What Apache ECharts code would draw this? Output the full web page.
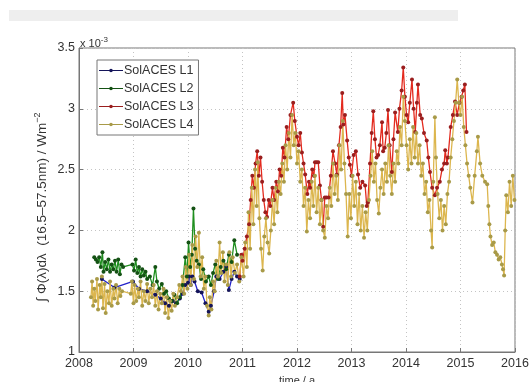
<!DOCTYPE html>
<html>
<head>
<meta charset="utf-8">
<script src="https://cdn.jsdelivr.net/npm/echarts@6/dist/echarts.min.js"></script>
<style>
  html, body { margin: 0; padding: 0; background: #fff; }
  #chart { width: 531px; height: 382px; }
</style>
</head>
<body>
<div id="chart"></div>
<script>
  // values in units of 1e-3 W/m^2, time in decimal years
  var xTicks = [2008, 2009, 2010, 2011, 2012, 2013, 2014, 2015, 2016]
  var yTicks = [1, 1.5, 2, 2.5, 3, 3.5]
  var seriesNames = ['SolACES L1', 'SolACES L2', 'SolACES L3', 'SolACES L4']

  var l1Time = [2008.42, 2008.65, 2008.99, 2009.10, 2009.25, 2009.40, 2009.50, 2009.58, 2009.65, 2009.72,
    2009.78, 2009.85, 2009.90, 2009.95, 2010.00, 2010.02, 2010.05, 2010.08, 2010.12, 2010.18,
    2010.25, 2010.32, 2010.38, 2010.42, 2010.48, 2010.52, 2010.58, 2010.65, 2010.70, 2010.75,
    2010.80, 2010.85, 2010.90, 2010.95]
  var l1Value = [1.60, 1.53, 1.58, 1.52, 1.50, 1.47, 1.44, 1.40, 1.38, 1.42,
    1.40, 1.44, 1.48, 1.55, 1.57, 1.62, 1.55, 1.62, 1.58, 1.50,
    1.49, 1.40, 1.33, 1.38, 1.50, 1.62, 1.60, 1.66, 1.70, 1.51,
    1.60, 1.66, 1.62, 1.60]

  var l2Time = [2008.28, 2008.31, 2008.34, 2008.37, 2008.40, 2008.43, 2008.45, 2008.48, 2008.51, 2008.54,
    2008.57, 2008.60, 2008.63, 2008.66, 2008.69, 2008.72, 2008.75, 2008.78, 2008.81, 2008.98,
    2009.01, 2009.04, 2009.07, 2009.10, 2009.13, 2009.16, 2009.19, 2009.22, 2009.25, 2009.30,
    2009.35, 2009.40, 2009.43, 2009.47, 2009.52, 2009.56, 2009.60, 2009.65, 2009.70, 2009.75,
    2009.80, 2009.85, 2009.90, 2009.95, 2009.98, 2010.01, 2010.04, 2010.07, 2010.10, 2010.13,
    2010.16, 2010.20, 2010.24, 2010.28, 2010.33, 2010.38, 2010.42, 2010.46, 2010.50, 2010.55,
    2010.60, 2010.65, 2010.70, 2010.75, 2010.80, 2010.85, 2010.90]
  var l2Value = [1.78, 1.76, 1.74, 1.78, 1.70, 1.82, 1.66, 1.74, 1.68, 1.76,
    1.66, 1.72, 1.68, 1.75, 1.66, 1.76, 1.64, 1.72, 1.70, 1.72,
    1.67, 1.76, 1.65, 1.70, 1.62, 1.68, 1.63, 1.66, 1.60, 1.62,
    1.55, 1.70, 1.58, 1.52, 1.56, 1.48, 1.50, 1.44, 1.42, 1.47,
    1.40, 1.45, 1.55, 1.78, 1.62, 1.90, 1.70, 1.80, 2.18, 1.85,
    1.75, 1.72, 1.60, 1.68, 1.58, 1.62, 1.55, 1.65, 1.72, 1.60,
    1.70, 1.75, 1.68, 1.80, 1.74, 1.92, 1.80]

  var l3Time = [2010.95, 2010.98, 2011.00, 2011.04, 2011.08, 2011.12, 2011.15, 2011.18, 2011.21, 2011.24,
    2011.27, 2011.30, 2011.33, 2011.36, 2011.39, 2011.42, 2011.45, 2011.48, 2011.51, 2011.55,
    2011.58, 2011.62, 2011.65, 2011.68, 2011.71, 2011.74, 2011.77, 2011.81, 2011.84, 2011.88,
    2011.93, 2011.96, 2012.00, 2012.03, 2012.06, 2012.09, 2012.12, 2012.15, 2012.19, 2012.22,
    2012.24, 2012.28, 2012.31, 2012.33, 2012.36, 2012.39, 2012.42, 2012.45, 2012.48, 2012.51,
    2012.54, 2012.58, 2012.62, 2012.66, 2012.70, 2012.73, 2012.77, 2012.80, 2012.83, 2012.85,
    2012.88, 2012.92, 2012.95, 2012.97, 2013.00, 2013.04, 2013.08, 2013.12, 2013.16, 2013.20,
    2013.25, 2013.28, 2013.30, 2013.34, 2013.37, 2013.40, 2013.43, 2013.46, 2013.49, 2013.52,
    2013.56, 2013.58, 2013.61, 2013.64, 2013.67, 2013.70, 2013.74, 2013.77, 2013.80, 2013.85,
    2013.88, 2013.92, 2013.95, 2013.98, 2014.01, 2014.04, 2014.07, 2014.11, 2014.14, 2014.17,
    2014.20, 2014.22, 2014.26, 2014.29, 2014.33, 2014.38, 2014.41, 2014.44, 2014.48, 2014.53,
    2014.57, 2014.62, 2014.66, 2014.70, 2014.72, 2014.75, 2014.77, 2014.82, 2014.86, 2014.90,
    2014.94, 2014.98, 2015.02, 2015.05, 2015.08, 2015.11]
  var l3Value = [1.62, 1.80, 1.75, 1.85, 1.95, 2.05, 2.25, 2.45, 2.35, 2.55,
    2.65, 2.45, 2.60, 2.40, 2.25, 2.15, 2.11, 2.25, 2.20, 2.35,
    2.25, 2.40, 2.32, 2.50, 2.45, 2.68, 2.60, 2.85, 2.75, 2.95,
    3.05, 2.90, 2.77, 2.70, 2.80, 2.64, 2.55, 2.46, 2.30, 2.40,
    2.35, 2.50, 2.45, 2.56, 2.56, 2.56, 2.37, 2.25, 2.03, 2.27,
    2.27, 2.27, 2.45, 2.65, 2.55, 2.46, 2.70, 2.85, 3.13, 2.87,
    2.95, 2.74, 2.60, 2.54, 2.45, 2.62, 2.65, 2.46, 2.35, 2.40,
    2.37, 2.20, 2.23, 2.55, 2.80, 2.98, 2.75, 2.60, 2.62, 2.70,
    2.89, 2.65, 2.68, 2.80, 2.99, 2.70, 2.48, 2.75, 2.97, 2.81,
    3.00, 3.15, 3.34, 3.10, 2.95, 2.89, 3.05, 3.24, 3.00, 2.81,
    3.05, 3.20, 2.95, 2.92, 2.80, 2.74, 2.60, 2.48, 2.35, 2.29,
    2.35, 2.40, 2.50, 2.55, 2.66, 2.55, 2.60, 2.85, 2.95, 3.06,
    2.95, 3.05, 3.10, 3.15, 3.20, 2.81]

  var l4Time = [2008.22, 2008.24, 2008.26, 2008.28, 2008.30, 2008.33, 2008.35, 2008.38, 2008.40, 2008.42,
    2008.44, 2008.47, 2008.49, 2008.52, 2008.55, 2008.57, 2008.60, 2008.63, 2008.65, 2008.68,
    2008.71, 2008.74, 2008.76, 2008.79, 2008.95, 2008.97, 2009.00, 2009.02, 2009.05, 2009.08,
    2009.10, 2009.13, 2009.16, 2009.19, 2009.22, 2009.25, 2009.28, 2009.31, 2009.34, 2009.37,
    2009.40, 2009.43, 2009.46, 2009.49, 2009.52, 2009.55, 2009.58, 2009.61, 2009.64, 2009.67,
    2009.70, 2009.73, 2009.76, 2009.80, 2009.84, 2009.87, 2009.90, 2009.93, 2009.96, 2009.99,
    2010.02, 2010.05, 2010.08, 2010.11, 2010.14, 2010.17, 2010.20, 2010.23, 2010.26, 2010.29,
    2010.32, 2010.35, 2010.38, 2010.40, 2010.43, 2010.46, 2010.49, 2010.52, 2010.55, 2010.58,
    2010.61, 2010.64, 2010.67, 2010.70, 2010.73, 2010.76, 2010.79, 2010.82, 2010.86, 2010.90,
    2010.94, 2010.98, 2011.02, 2011.05, 2011.08, 2011.11, 2011.14, 2011.17, 2011.20, 2011.23,
    2011.26, 2011.28, 2011.31, 2011.34, 2011.37, 2011.40, 2011.43, 2011.46, 2011.49, 2011.52,
    2011.55, 2011.58, 2011.61, 2011.64, 2011.67, 2011.70, 2011.73, 2011.76, 2011.79, 2011.82,
    2011.85, 2011.88, 2011.91, 2011.94, 2011.97, 2012.00, 2012.03, 2012.06, 2012.09, 2012.12,
    2012.15, 2012.18, 2012.21, 2012.24, 2012.27, 2012.30, 2012.33, 2012.36, 2012.39, 2012.42,
    2012.45, 2012.48, 2012.51, 2012.54, 2012.57, 2012.60, 2012.63, 2012.66, 2012.69, 2012.72,
    2012.75, 2012.78, 2012.81, 2012.84, 2012.87, 2012.90, 2012.93, 2012.96, 2012.99, 2013.02,
    2013.05, 2013.08, 2013.11, 2013.14, 2013.17, 2013.20, 2013.23, 2013.26, 2013.29, 2013.32,
    2013.35, 2013.38, 2013.41, 2013.44, 2013.47, 2013.50, 2013.53, 2013.56, 2013.59, 2013.62,
    2013.65, 2013.68, 2013.71, 2013.74, 2013.77, 2013.80, 2013.83, 2013.86, 2013.89, 2013.92,
    2013.95, 2013.98, 2014.01, 2014.04, 2014.07, 2014.10, 2014.13, 2014.16, 2014.19, 2014.22,
    2014.25, 2014.28, 2014.31, 2014.34, 2014.37, 2014.40, 2014.43, 2014.46, 2014.48, 2014.50,
    2014.53, 2014.55, 2014.58, 2014.61, 2014.64, 2014.67, 2014.70, 2014.73, 2014.76, 2014.79,
    2014.82, 2014.85, 2014.88, 2014.91, 2014.94, 2014.97, 2015.00, 2015.03, 2015.06, 2015.09,
    2015.12, 2015.15, 2015.18, 2015.22, 2015.26, 2015.30, 2015.32, 2015.36, 2015.40, 2015.45,
    2015.49, 2015.51, 2015.53, 2015.55, 2015.58, 2015.61, 2015.64, 2015.67, 2015.70, 2015.73,
    2015.76, 2015.78, 2015.80, 2015.82, 2015.84, 2015.87, 2015.90, 2015.93, 2015.96, 2015.99]
  var l4Value = [1.45, 1.58, 1.38, 1.52, 1.42, 1.60, 1.35, 1.55, 1.45, 1.62,
    1.36, 1.56, 1.32, 1.50, 1.40, 1.58, 1.38, 1.52, 1.44, 1.55,
    1.40, 1.52, 1.46, 1.50, 1.48, 1.58, 1.40, 1.55, 1.42, 1.52,
    1.45, 1.58, 1.38, 1.50, 1.42, 1.56, 1.40, 1.52, 1.45, 1.55,
    1.38, 1.50, 1.35, 1.48, 1.40, 1.52, 1.32, 1.45, 1.28, 1.42,
    1.34, 1.48, 1.38, 1.45, 1.55, 1.50, 1.62, 1.48, 1.70, 1.52,
    1.80, 1.55, 1.88, 1.60, 1.95, 1.70, 1.98, 1.62, 1.78, 1.52,
    1.62, 1.38, 1.30, 1.45, 1.35, 1.58, 1.50, 1.75, 1.62, 1.90,
    1.65, 1.82, 1.58, 1.72, 1.55, 1.82, 1.62, 1.78, 1.65, 1.72,
    1.58, 1.78, 1.62, 1.90, 1.70, 2.15, 1.85, 2.35, 2.05, 2.50,
    2.20, 2.56, 2.10, 1.85, 1.67, 1.95, 2.10, 1.90, 1.81, 2.00,
    2.25, 2.05, 2.35, 2.15, 2.40, 2.30, 2.55, 2.40, 2.70, 2.50,
    2.80, 2.60, 2.95, 2.70, 2.80, 2.55, 2.65, 2.40, 2.50, 2.20,
    2.35, 1.99, 2.25, 2.10, 2.40, 2.20, 2.45, 2.15, 2.35, 2.05,
    2.25, 2.00, 1.94, 2.20, 2.10, 2.35, 2.20, 2.55, 2.30, 2.45,
    2.25, 2.70, 2.50, 2.90, 2.55, 2.30, 1.95, 2.30, 2.10, 2.45,
    2.20, 2.40, 2.05, 2.30, 2.00, 2.20, 1.94, 2.15, 2.00, 2.25,
    2.45, 2.65, 2.40, 2.55, 2.25, 2.14, 2.35, 2.50, 2.30, 2.55,
    2.40, 2.70, 2.45, 2.30, 2.55, 2.40, 2.65, 2.55, 2.85, 2.70,
    3.10, 2.90, 2.70, 2.50, 2.75, 2.55, 2.85, 2.60, 2.80, 2.55,
    2.70, 2.45, 2.55, 2.30, 2.40, 2.15, 2.25, 2.00, 1.86, 2.40,
    2.93, 2.60, 2.30, 2.10, 2.25, 2.00, 2.20, 2.05, 2.30, 2.40,
    2.60, 2.75, 2.90, 3.05, 3.24, 3.05, 2.95, 3.10, 2.85, 2.70,
    2.55, 2.45, 2.35, 2.23, 2.45, 2.65, 2.77, 2.55, 2.45, 2.40,
    2.38, 2.20, 2.05, 1.95, 1.88, 1.90, 1.82, 1.80, 1.76, 1.78,
    1.72, 1.68, 1.63, 2.00, 2.29, 2.15, 2.40, 2.20, 2.45, 2.25]

  var lineColors = ['#2323c8', '#1f8f1f', '#e32a1e', '#dcb64e']
  var dotColors = ['#14145a', '#145214', '#9a1e1e', '#a89a48']

  function pairs (t, v) {
    let out = []
    for (let i = 0; i < t.length; i++) {
      out.push([t[i], v[i]])
    }
    return out
  }

  var allData = [pairs(l1Time, l1Value), pairs(l2Time, l2Value), pairs(l3Time, l3Value), pairs(l4Time, l4Value)]

  // legend sample: thin line with a small dot in the middle
  var legendIcon = 'path://M0,4.4L24,4.4L24,5.6L0,5.6Z M12,3.2A1.8,1.8,0,1,1,11.99,3.2Z'

  var series = seriesNames.map(function (name, i) {
    return {
      name: name,
      type: 'line',
      data: allData[i],
      symbol: 'circle',
      symbolSize: 4,
      showAllSymbol: true,
      lineStyle: { color: lineColors[i], width: 1.3 },
      itemStyle: { color: dotColors[i], borderWidth: 0 },
      emphasis: { disabled: true },
    }
  })

  var txt = '#333'
  var font = 'Liberation Sans, Arial, DejaVu Sans, sans-serif'

  var myChart = echarts.init(document.getElementById('chart'))
  var option = {
    animation: false,
    backgroundColor: '#fff',
    grid: {
      left: 79,
      right: 16,
      top: 48,
      bottom: 30,
      outerBoundsMode: 'none',
      show: true,
      borderColor: '#777',
      borderWidth: 1,
      backgroundColor: 'transparent',
    },
    legend: {
      orient: 'vertical',
      left: 97,
      top: 60,
      data: seriesNames.map(function (n) { return { name: n, icon: legendIcon } }),
      padding: [4, 5, 4, 2],
      itemGap: 5,
      itemWidth: 24,
      itemHeight: 10,
      backgroundColor: '#fff',
      borderColor: '#777',
      borderWidth: 1,
      borderRadius: 0,
      textStyle: { fontSize: 12.5, color: txt, fontFamily: font, padding: [0, 0, 0, -4] },
    },
    xAxis: {
      type: 'value',
      min: xTicks[0],
      max: xTicks[xTicks.length - 1],
      interval: 1,
      axisLine: { show: true, lineStyle: { color: '#777' } },
      axisTick: { show: true, inside: true, length: 4, lineStyle: { color: '#777' } },
      axisLabel: { color: txt, fontSize: 12.5, fontFamily: font, margin: 5, formatter: function (v) { return String(v) } },
      splitLine: { show: true, lineStyle: { color: '#c4c4c4', type: [1, 3] } },
      name: 'time / a',
      nameLocation: 'middle',
      nameGap: 23,
      nameTextStyle: { color: txt, fontSize: 11, fontFamily: font },
    },
    yAxis: {
      type: 'value',
      min: yTicks[0],
      max: yTicks[yTicks.length - 1],
      interval: 0.5,
      axisLine: { show: true, lineStyle: { color: '#777' } },
      axisTick: { show: true, inside: true, length: 4, lineStyle: { color: '#777' } },
      axisLabel: { color: txt, fontSize: 12.5, fontFamily: font, margin: 4, formatter: function (v) { return String(v) } },
      splitLine: { show: true, lineStyle: { color: '#c4c4c4', type: [1, 3] } },
    },
    graphic: [
      {
        type: 'rect',
        shape: { x: 9, y: 10, width: 449, height: 11 },
        style: { fill: '#eeeeee' },
        silent: true,
      },
      {
        type: 'text',
        x: 80,
        y: 36,
        style: {
          text: 'x 10{sup|-3}',
          fill: txt,
          font: '11px ' + font,
          rich: { sup: { fontSize: 8, fill: txt, padding: [0, 0, 7, 0] } },
        },
        silent: true,
      },
      {
        type: 'text',
        x: 42,
        y: 207,
        rotation: Math.PI / 2,
        style: {
          text: '\u222B \u03A6(\u03BB)d\u03BB  (16.5\u201357.5nm) / Wm{sup|\u22122}',
          fill: txt,
          font: '13.5px ' + font,
          align: 'center',
          verticalAlign: 'middle',
          rich: { sup: { fontSize: 9, fill: txt, padding: [0, 0, 8, 0] } },
        },
        silent: true,
      },
    ],
    series: series,
  }
  myChart.setOption(option)
</script>
</body>
</html>
